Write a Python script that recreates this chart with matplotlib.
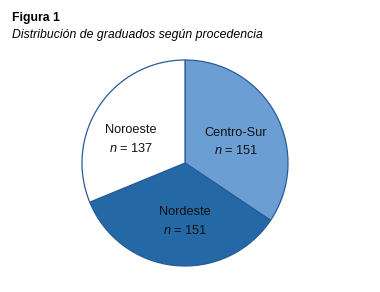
import matplotlib
matplotlib.use("Agg")
import matplotlib.pyplot as plt

plt.rcParams['font.family'] = ['Liberation Sans', 'DejaVu Sans']
plt.rcParams['mathtext.fontset'] = 'custom'
plt.rcParams['mathtext.rm'] = 'Liberation Sans'
plt.rcParams['mathtext.it'] = 'Liberation Sans:italic'

categories = ["Centro-Sur", "Nordeste", "Noroeste"]
values = [151, 151, 137]
colors = ["#6b9fd4", "#2468a5", "#ffffff"]
edge = "#2a5a9a"

W, H = 380, 292
fig = plt.figure(figsize=(W / 100, H / 100), dpi=100)
cx, cy, r = 185, 163, 103
pad = 1.03
ax = fig.add_axes([(cx - r * pad) / W, (H - cy - r * pad) / H, 2 * r * pad / W, 2 * r * pad / H])
wedges, _ = ax.pie(values, colors=colors, startangle=90, counterclock=False,
                   wedgeprops=dict(edgecolor=edge, linewidth=0.9))
ax.set_xlim(-pad, pad)
ax.set_ylim(-pad, pad)
ax.set_aspect('equal')
ax.axis('off')

label_pos = {"Centro-Sur": (236, 133), "Nordeste": (185, 212), "Noroeste": (131, 130)}
for cat, v in zip(categories, values):
    px, py = label_pos[cat]
    col = "#111111"
    fig.text(px / W, 1 - py / H, cat, ha='center', va='center', fontsize=9.2, color=col)
    fig.text(px / W, 1 - (py + 18) / H, r"$n$" + f" = {v}", ha='center', va='center',
             fontsize=9.2, color=col)

fig.text(12 / W, 1 - 18 / H, "Figura 1", fontsize=8.8, fontweight='bold', va='center', ha='left')
fig.text(12 / W, 1 - 35 / H, "Distribución de graduados según procedencia", fontsize=8.8,
         style='italic', va='center', ha='left')

fig.savefig("out.png", dpi=100)
